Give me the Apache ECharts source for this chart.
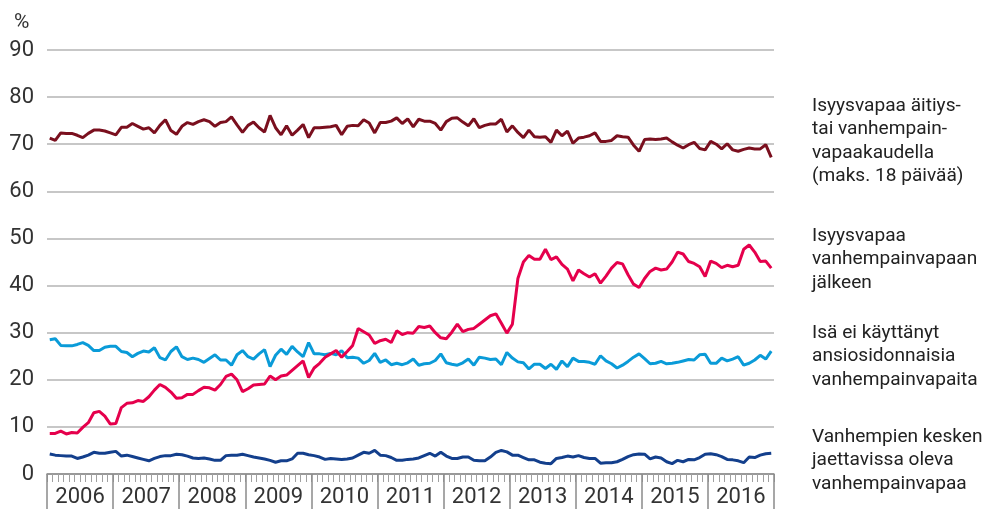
<!DOCTYPE html>
<html lang="fi" style="height: 100%">
<head>
  <meta charset="utf-8">
</head>
<body style="height: 100%; margin: 0; background: #fff">
  <div id="container" style="width: 987px; height: 509px"></div>

  <script type="text/javascript" src="https://cdn.jsdelivr.net/npm/echarts@6/dist/echarts.min.js"></script>

  <script type="text/javascript">
    // Years on the axis, one category per month
    var years = ['2006', '2007', '2008', '2009', '2010', '2011', '2012', '2013', '2014', '2015', '2016'];
    var months = [];
    years.forEach(function (y) {
      for (var m = 1; m <= 12; m++) months.push(y + '-' + m);
    });

    var yTicks = [0, 10, 20, 30, 40, 50, 60, 70, 80, 90];

    // Isyysvapaa äitiys- tai vanhempainvapaakaudella
    var aitiys = [
      71.3, 70.8, 72.4, 72.3, 72.3, 71.9, 71.4, 72.3, 73.0, 73.0, 72.8, 72.4,
      72.0, 73.6, 73.6, 74.4, 73.8, 73.2, 73.5, 72.4, 74.0, 75.2, 72.9, 72.1,
      73.8, 74.6, 74.2, 74.8, 75.2, 74.8, 73.8, 74.6, 74.8, 75.8, 74.1, 72.5,
      74.0, 74.7, 73.5, 72.6, 76.1, 73.5, 72.0, 73.9, 71.9, 73.0, 74.2, 71.4,
      73.5, 73.5, 73.6, 73.7, 74.0, 72.0, 73.8, 74.0, 73.9, 75.2, 74.5, 72.4,
      74.6, 74.6, 74.9, 75.6, 74.4, 75.4, 73.7, 75.3, 74.9, 74.9, 74.4, 73.0,
      74.8, 75.5, 75.6, 74.7, 73.9, 75.4, 73.5, 74.0, 74.3, 74.3, 75.3, 72.6,
      73.9, 72.5, 71.4, 73.0, 71.6, 71.5, 71.6, 70.4, 73.0, 71.8, 72.8, 70.2,
      71.3, 71.5, 71.8, 72.4, 70.6, 70.6, 70.8, 71.8, 71.6, 71.5, 69.8, 68.5,
      71.0, 71.1, 71.0, 71.1, 71.3, 70.5, 69.8, 69.2, 69.9, 70.4, 69.1, 68.8,
      70.6, 70.0, 69.0, 70.1, 68.8, 68.5, 68.9, 69.2, 69.0, 69.0, 69.9, 67.2
    ];

    // Isyysvapaa vanhempainvapaan jälkeen
    var jalkeen = [
      8.6, 8.6, 9.1, 8.5, 8.8, 8.7, 9.9, 10.9, 13.0, 13.3, 12.3, 10.6,
      10.7, 14.1, 15.0, 15.1, 15.6, 15.4, 16.4, 17.8, 19.0, 18.4, 17.4, 16.1,
      16.2, 16.9, 16.9, 17.7, 18.4, 18.3, 17.8, 19.0, 20.7, 21.2, 20.0, 17.5,
      18.1, 18.9, 19.0, 19.1, 20.8, 20.0, 20.8, 21.0, 22.0, 23.0, 24.0, 20.5,
      22.5, 23.5, 24.8, 25.5, 26.2, 24.8, 26.0, 27.3, 30.9, 30.2, 29.5, 27.7,
      28.3, 28.6, 27.9, 30.4, 29.6, 30.0, 29.9, 31.3, 31.1, 31.4, 30.0, 28.9,
      28.7, 30.1, 31.8, 30.2, 30.7, 30.9, 31.8, 32.7, 33.6, 34.0, 32.0, 29.9,
      31.8, 41.5, 45.0, 46.4, 45.6, 45.6, 47.7, 45.5, 46.1, 44.5, 43.5, 41.0,
      43.3, 42.5, 41.8, 42.5, 40.5, 42.0, 43.7, 44.9, 44.6, 42.3, 40.3, 39.6,
      41.5, 43.0, 43.7, 43.3, 43.5, 45.0, 47.1, 46.7, 45.1, 44.7, 44.0, 41.9,
      45.2, 44.7, 43.8, 44.3, 44.0, 44.3, 47.7, 48.6, 47.1, 45.1, 45.2, 43.7
    ];

    // Isä ei käyttänyt ansiosidonnaisia vanhempainvapaita
    var eiKayttanyt = [
      28.5, 28.7, 27.3, 27.2, 27.2, 27.5, 27.9, 27.3, 26.2, 26.2, 26.9, 27.1,
      27.1, 26.0, 25.8, 24.9, 25.6, 26.1, 25.9, 26.8, 24.7, 24.2, 26.0, 27.0,
      24.9, 24.3, 24.6, 24.3, 23.7, 24.5, 25.3, 24.2, 24.2, 23.1, 25.3, 26.2,
      24.9, 24.4, 25.5, 26.4, 22.8, 25.2, 26.5, 25.4, 27.1, 25.9, 24.9, 27.9,
      25.5, 25.5, 25.3, 25.6, 25.3, 26.2, 24.7, 24.8, 24.6, 23.5, 24.1, 25.6,
      23.7, 24.2, 23.2, 23.5, 23.2, 23.6, 24.4, 23.1, 23.4, 23.5, 24.1, 25.5,
      23.6, 23.3, 23.1, 23.6, 24.4, 23.1, 24.8, 24.6, 24.3, 24.4, 23.2, 25.8,
      24.6, 23.8, 23.6, 22.3, 23.3, 23.3, 22.4, 23.3, 22.2, 24.0, 22.8, 24.6,
      23.9, 23.9, 23.7, 23.3, 25.1, 24.0, 23.4, 22.5, 23.1, 23.9, 24.8, 25.5,
      24.5, 23.4, 23.5, 23.9, 23.4, 23.5, 23.7, 24.0, 24.3, 24.2, 25.3, 25.4,
      23.5, 23.5, 24.6, 24.0, 24.4, 24.9, 23.1, 23.5, 24.2, 25.2, 24.4, 26.1
    ];

    // Vanhempien kesken jaettavissa oleva vanhempainvapaa
    var jaettava = [
      4.25, 4.0, 3.9, 3.8, 3.8, 3.3, 3.6, 4.0, 4.6, 4.4, 4.4, 4.6,
      4.8, 3.8, 4.0, 3.7, 3.4, 3.1, 2.8, 3.3, 3.7, 3.9, 3.9, 4.2,
      4.1, 3.8, 3.4, 3.3, 3.4, 3.2, 2.9, 2.9, 3.9, 4.0, 4.0, 4.2,
      3.9, 3.6, 3.4, 3.2, 2.9, 2.5, 2.8, 2.8, 3.2, 4.4, 4.4, 4.1,
      3.9, 3.6, 3.1, 3.3, 3.2, 3.1, 3.2, 3.4, 4.0, 4.6, 4.4, 5.0,
      4.0, 3.9, 3.5, 2.9, 2.9, 3.1, 3.2, 3.4, 3.9, 4.4, 3.8, 4.6,
      3.8, 3.3, 3.3, 3.6, 3.6, 2.9, 2.8, 2.8, 3.6, 4.6, 5.0, 4.7,
      4.0, 4.0, 3.5, 3.0, 3.0, 2.5, 2.3, 2.2, 3.3, 3.5, 3.8, 3.6,
      3.9, 3.5, 3.3, 3.3, 2.3, 2.4, 2.4, 2.6, 3.1, 3.7, 4.1, 4.25,
      4.2, 3.2, 3.6, 3.4, 2.6, 2.2, 2.9, 2.6, 3.1, 3.0, 3.5, 4.2,
      4.3, 4.1, 3.7, 3.1, 3.0, 2.8, 2.4, 3.6, 3.5, 4.0, 4.3, 4.4
    ];

    var seriesNames = [
      'Isyysvapaa äitiys-\ntai vanhempain-\nvapaakaudella\n(maks. 18 päivää)',
      'Isyysvapaa\nvanhempainvapaan\njälkeen',
      'Isä ei käyttänyt\nansiosidonnaisia\nvanhempainvapaita',
      'Vanhempien kesken\njaettavissa oleva\nvanhempainvapaa'
    ];

    var font = 'Roboto, "Noto Sans", sans-serif';

    var dom = document.getElementById('container');
    var myChart = echarts.init(dom, null, { renderer: 'canvas' });

    function lineSeries(name, data, color) {
      return {
        name: name,
        type: 'line',
        data: data,
        xAxisIndex: 0,
        showSymbol: false,
        symbol: 'none',
        lineStyle: { color: color, width: 3 },
        itemStyle: { color: color },
        emphasis: { disabled: true },
        animation: false
      };
    }

    var labelTops = [94, 224, 321, 425];

    var option = {
      backgroundColor: '#fff',
      textStyle: { fontFamily: font },
      grid: { left: 47, right: 213, top: 50, bottom: 35 },
      graphic: [
        {
          type: 'text', left: 14, top: 12,
          style: { text: '%', fontSize: 21, fill: '#333', fontFamily: font }
        }
      ].concat(seriesNames.map(function (n, i) {
        return {
          type: 'text', left: 812, top: labelTops[i],
          style: { text: n, fontSize: 19.1, lineHeight: 23.5, fill: '#222', fontFamily: font }
        };
      })),
      xAxis: [
        {
          type: 'category',
          position: 'bottom',
          data: months,
          boundaryGap: true,
          axisLine: { show: true, lineStyle: { color: '#8a8a8a', width: 1.5 } },
          axisTick: { show: true, interval: 0, length: 8, lineStyle: { color: '#a0a0a0', width: 1 } },
          axisLabel: { show: false },
          splitLine: { show: false }
        },
        {
          type: 'category',
          position: 'bottom',
          data: years,
          boundaryGap: true,
          axisLine: { show: false },
          axisTick: { show: true, interval: 0, length: 36, lineStyle: { color: '#8a8a8a', width: 1.5 } },
          axisLabel: { show: true, interval: 0, fontSize: 22, color: '#333', margin: 12, fontFamily: font },
          splitLine: { show: false }
        }
      ],
      yAxis: {
        type: 'value',
        min: yTicks[0],
        max: yTicks[yTicks.length - 1],
        interval: 10,
        axisLine: { show: false },
        axisTick: { show: false },
        axisLabel: { fontSize: 22, color: '#333', margin: 13, fontFamily: font },
        splitLine: { lineStyle: { color: '#b5b5b5', width: 1.5 } }
      },
      series: [
        lineSeries(seriesNames[0], aitiys, '#7a0f1e'),
        lineSeries(seriesNames[2], eiKayttanyt, '#0a9bd8'),
        lineSeries(seriesNames[3], jaettava, '#133f8c'),
        lineSeries(seriesNames[1], jalkeen, '#e5004c')
      ]
    };

    myChart.setOption(option);
    window.addEventListener('resize', myChart.resize);
  </script>
</body>
</html>
